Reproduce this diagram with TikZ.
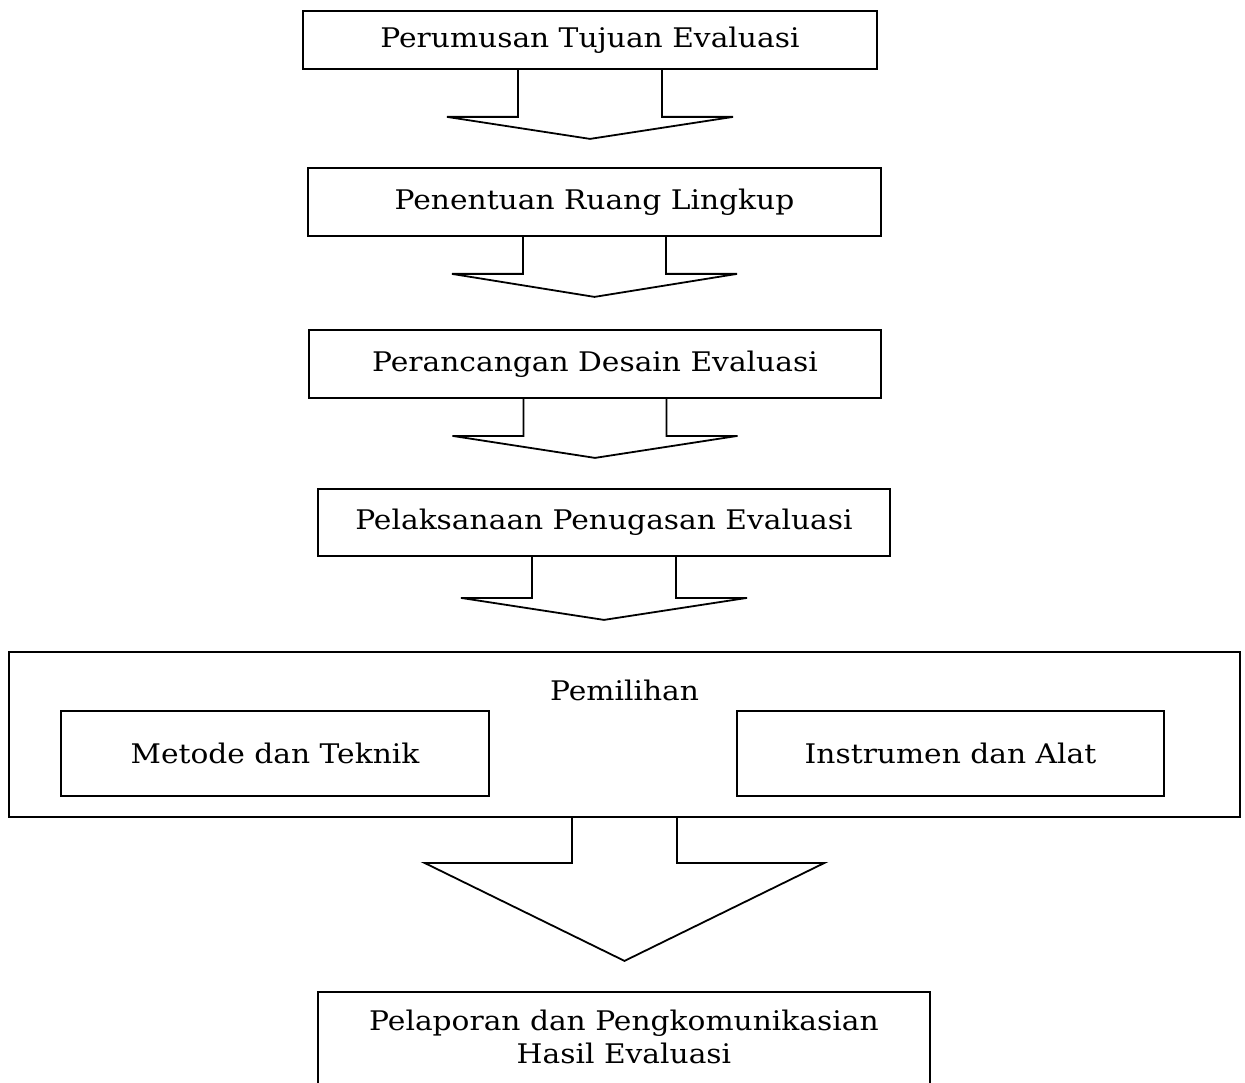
\documentclass[tikz,border=0pt]{standalone}
\usepackage{fontspec}
\setmainfont[FakeStretch=1.1]{DejaVu Serif}
\usetikzlibrary{calc}
\begin{document}
\begin{tikzpicture}[x=1pt,y=-1pt,
  txt/.style={font=\fontsize{27}{33}\selectfont,align=center},
  box/.style={draw,line width=1.8pt,inner sep=0pt,txt},
  blk/.style={draw,line width=1.8pt,line join=miter}]
\useasboundingbox (0,0) rectangle (1245,1083);
\node[box,minimum width=574pt,minimum height=58pt] (b1) at (590,40) {Perumusan Tujuan Evaluasi};
\node[box,minimum width=573pt,minimum height=68pt] (b2) at (594.5,202) {Penentuan Ruang Lingkup};
\node[box,minimum width=572pt,minimum height=68pt] (b3) at (595,364) {Perancangan Desain Evaluasi};
\node[box,minimum width=572pt,minimum height=67pt] (b4) at (604,522.5) {Pelaksanaan Penugasan Evaluasi};
\node[box,minimum width=1231pt,minimum height=165pt] (b5) at (624.5,734.5) {};
\node[txt] (t5) at (624.5,690) {Pemilihan};
\node[box,minimum width=428pt,minimum height=85pt] (m) at (275,753.5) {Metode dan Teknik};
\node[box,minimum width=427pt,minimum height=85pt] (ins) at (950.5,753.5) {Instrumen dan Alat};
\node[box,minimum width=612pt,minimum height=110pt] (b6) at (624,1047) {};
\node[txt] (t6) at (624,1037) {Pelaporan dan Pengkomunikasian\\Hasil Evaluasi};
\newcommand{\blockarrow}[5]{%
 \draw[blk] ($(#1.south)+(-#2,0)$) -- ++(0,#3) -- ($(#1.south)+(-#4,#3)$) -- ($(#1.south)+(0,#3+#5)$) -- ($(#1.south)+(#4,#3)$) -- ($(#1.south)+(#2,#3)$) -- ($(#1.south)+(#2,0)$);}
\blockarrow{b1}{72}{47}{143}{22}
\blockarrow{b2}{71.5}{37}{142.5}{23}
\blockarrow{b3}{71.5}{37}{142.5}{22}
\blockarrow{b4}{72}{41}{143}{22}
\blockarrow{b5}{52.5}{45}{200}{98}
\end{tikzpicture}
\end{document}
